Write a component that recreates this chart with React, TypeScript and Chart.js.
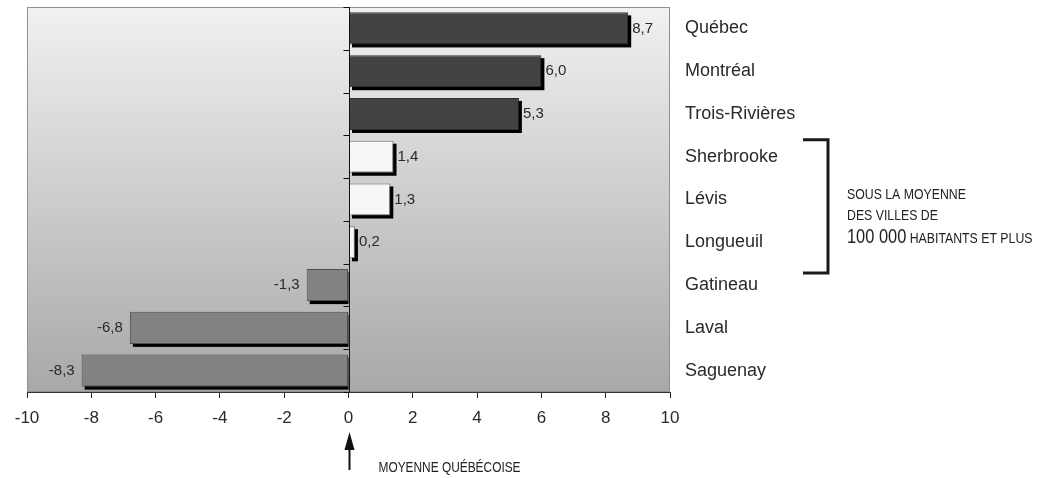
import React, { useEffect, useRef } from 'react';
import { Chart, registerables } from 'chart.js';

Chart.register(...registerables);

// ---- data ----
const categories = ['Québec', 'Montréal', 'Trois-Rivières', 'Sherbrooke', 'Lévis', 'Longueuil', 'Gatineau', 'Laval', 'Saguenay'];
const values = [8.7, 6.0, 5.3, 1.4, 1.3, 0.2, -1.3, -6.8, -8.3];
const valueLabels = ['8,7', '6,0', '5,3', '1,4', '1,3', '0,2', '-1,3', '-6,8', '-8,3'];
const groups = ['high', 'high', 'high', 'low', 'low', 'low', 'neg', 'neg', 'neg'];
const xMin = -10;
const xMax = 10;
const xStep = 2;
const bracketLines = ['SOUS LA MOYENNE', 'DES VILLES DE'];
const bracketLastBig = '100 000';
const bracketLastSmall = ' HABITANTS ET PLUS';
const averageNote = 'MOYENNE QUÉBÉCOISE';

// ---- styles ----
const fillByGroup: Record<string, string> = { high: '#434343', low: '#f7f7f7', neg: '#828282' };
const borderByGroup: Record<string, string> = { high: '#2e2e2e', low: '#6e6e6e', neg: '#505050' };
const SANS = '"Liberation Sans", Arial, sans-serif';
const NARROW_X = 0.82;

function narrowText(ctx: CanvasRenderingContext2D, text: string, x: number, y: number, size: number): number {
  ctx.save();
  ctx.font = size + 'px ' + SANS;
  const w = ctx.measureText(text).width * NARROW_X;
  ctx.translate(x, y);
  ctx.scale(NARROW_X, 1);
  ctx.fillText(text, 0, 0);
  ctx.restore();
  return w;
}

const decor = {
  id: 'decor',
  beforeDraw(chart: any) {
    const { ctx, chartArea: a } = chart;
    ctx.save();
    const g = ctx.createLinearGradient(0, a.top, 0, a.bottom);
    g.addColorStop(0, '#f1f1f1');
    g.addColorStop(1, '#a8a8a8');
    ctx.fillStyle = g;
    ctx.fillRect(a.left, a.top, a.right - a.left, a.bottom - a.top);
    ctx.strokeStyle = '#8f8f8f';
    ctx.lineWidth = 1;
    ctx.strokeRect(a.left + 0.5, a.top + 0.5, a.right - a.left - 1, a.bottom - a.top - 1);
    ctx.restore();
  },
  beforeDatasetsDraw(chart: any) {
    const { ctx } = chart;
    const meta = chart.getDatasetMeta(0);
    const x0 = chart.scales.x.getPixelForValue(0);
    ctx.save();
    ctx.fillStyle = '#000';
    meta.data.forEach((bar: any) => {
      const left = Math.min(bar.x, bar.base);
      const right = Math.max(bar.x, bar.base);
      const top = bar.y - bar.height / 2;
      const sx = left + 3;
      const ex = right < x0 + 1 ? x0 : right + 3;
      ctx.fillRect(sx, top + 3, ex - sx, bar.height);
    });
    ctx.restore();
  },
  afterDatasetsDraw(chart: any) {
    const { ctx, chartArea: a } = chart;
    const xs = chart.scales.x;
    const ys = chart.scales.y;
    const x0 = Math.round(xs.getPixelForValue(0)) + 0.5;
    ctx.save();
    ctx.strokeStyle = '#111';
    ctx.lineWidth = 1;
    ctx.beginPath();
    ctx.moveTo(x0, a.top);
    ctx.lineTo(x0, a.bottom);
    const n = categories.length;
    for (let i = 0; i <= n; i++) {
      let y;
      if (i === 0) y = a.top;
      else if (i === n) y = a.bottom;
      else y = (ys.getPixelForValue(i - 1) + ys.getPixelForValue(i)) / 2;
      y = Math.round(y) + 0.5;
      ctx.moveTo(x0 - 6, y);
      ctx.lineTo(x0, y);
    }
    ctx.stroke();

    // value labels
    const meta = chart.getDatasetMeta(0);
    ctx.font = '15px ' + SANS;
    ctx.fillStyle = '#2a2a2a';
    ctx.textBaseline = 'middle';
    meta.data.forEach((bar: any, i: number) => {
      if (values[i] >= 0) {
        ctx.textAlign = 'left';
        ctx.fillText(valueLabels[i], bar.x + 4, bar.y);
      } else {
        ctx.textAlign = 'right';
        ctx.fillText(valueLabels[i], bar.x - 7, bar.y);
      }
    });
    ctx.restore();
  },
  afterDraw(chart: any) {
    const { ctx, chartArea: a } = chart;
    const xs = chart.scales.x;
    const ys = chart.scales.y;
    ctx.save();
    // bracket
    const bTop = ys.getPixelForValue(3) - 17;
    const bBot = ys.getPixelForValue(6) - 12;
    const bRight = a.right + 158;
    const bLeft = a.right + 133;
    ctx.strokeStyle = '#1a1a1a';
    ctx.lineWidth = 3;
    ctx.beginPath();
    ctx.moveTo(bLeft, bTop);
    ctx.lineTo(bRight, bTop);
    ctx.lineTo(bRight, bBot);
    ctx.lineTo(bLeft, bBot);
    ctx.stroke();

    // bracket note
    const tx = a.right + 177;
    const mid = (bTop + bBot) / 2;
    ctx.fillStyle = '#222';
    ctx.textAlign = 'left';
    ctx.textBaseline = 'middle';
    narrowText(ctx, bracketLines[0], tx, mid - 12, 15);
    narrowText(ctx, bracketLines[1], tx, mid + 9, 15);
    const w = narrowText(ctx, bracketLastBig, tx, mid + 31, 20);
    narrowText(ctx, bracketLastSmall, tx + w, mid + 32, 15);

    // average arrow
    const x0 = Math.round(xs.getPixelForValue(0)) + 0.5;
    const headTop = a.bottom + 40;
    const headBot = a.bottom + 58;
    const shaftEnd = a.bottom + 78;
    ctx.fillStyle = '#111';
    ctx.beginPath();
    ctx.moveTo(x0, headTop);
    ctx.lineTo(x0 - 5, headBot);
    ctx.lineTo(x0 + 5, headBot);
    ctx.closePath();
    ctx.fill();
    ctx.strokeStyle = '#111';
    ctx.lineWidth = 2;
    ctx.beginPath();
    ctx.moveTo(x0, headBot - 2);
    ctx.lineTo(x0, shaftEnd);
    ctx.stroke();

    ctx.fillStyle = '#222';
    ctx.textBaseline = 'middle';
    narrowText(ctx, averageNote, x0 + 29, a.bottom + 76, 14.5);
    ctx.restore();
  },
};

export default function App() {
  const canvasRef = useRef<HTMLCanvasElement | null>(null);

  useEffect(() => {
    const canvas = canvasRef.current;
    if (!canvas) return;
    const chart = new Chart(canvas, {
      type: 'bar',
      data: {
        labels: categories,
        datasets: [
          {
            data: values,
            backgroundColor: groups.map((g) => fillByGroup[g]),
            borderColor: groups.map((g) => borderByGroup[g]),
            borderWidth: 1,
            borderSkipped: false,
            barPercentage: 0.75,
            categoryPercentage: 1,
          },
        ],
      },
      options: {
        indexAxis: 'y',
        animation: false,
        responsive: false,
        events: [],
        layout: { padding: { left: 27, top: 7, right: 0, bottom: 0 } },
        plugins: {
          legend: { display: false },
          tooltip: { enabled: false },
          title: { display: false },
        },
        scales: {
          x: {
            type: 'linear',
            min: xMin,
            max: xMax,
            position: 'bottom',
            ticks: {
              stepSize: xStep,
              font: { family: SANS, size: 17 },
              color: '#2a2a2a',
              padding: 10,
              maxRotation: 0,
            },
            grid: {
              drawOnChartArea: false,
              drawTicks: true,
              tickLength: 6,
              color: '#222',
            },
            border: { display: true, color: '#333', width: 1 },
            afterFit: (scale: any) => {
              scale.height = 86;
            },
          },
          y: {
            type: 'category',
            position: 'right',
            ticks: {
              font: { family: SANS, size: 18 },
              color: '#2a2a2a',
              padding: 15,
            },
            grid: { display: false, drawTicks: false },
            border: { display: false },
            afterFit: (scale: any) => {
              scale.width = 369;
              scale.paddingTop = 0;
              scale.paddingBottom = 0;
            },
          },
        },
      },
      plugins: [decor],
    });
    return () => chart.destroy();
  }, []);

  return (
    <div style={{ position: 'absolute', left: 0, top: 0, width: 1039, height: 478, background: '#fff' }}>
      <canvas ref={canvasRef} width={1039} height={478} style={{ display: 'block' }} />
    </div>
  );
}
